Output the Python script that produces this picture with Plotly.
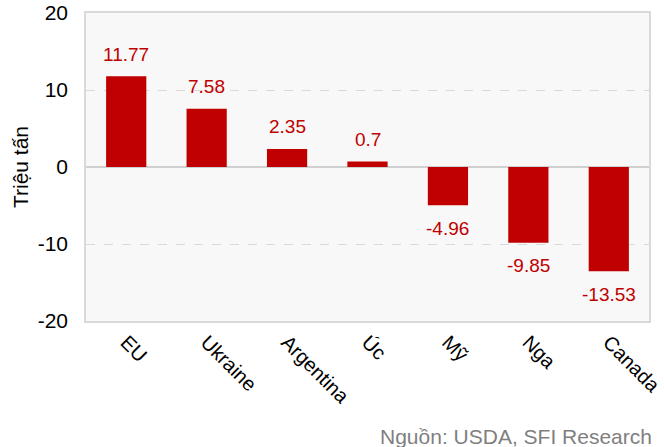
import plotly.graph_objects as go

categories = ["EU", "Ukraine", "Argentina", "Úc", "Mỹ", "Nga", "Canada"]
values = [11.77, 7.58, 2.35, 0.7, -4.96, -9.85, -13.53]
labels = ["11.77", "7.58", "2.35", "0.7", "-4.96", "-9.85", "-13.53"]
yticks = [-20, -10, 0, 10, 20]
yticktext = ["-20", "-10", "0", "10", "20"]

RED = "#c00000"
FONT = "Liberation Sans, Arial, sans-serif"

fig = go.Figure()
fig.add_trace(go.Bar(
    x=categories, y=values, marker_color=RED, marker_line_width=0,
))

annotations = []
for c, v, t in zip(categories, values, labels):
    annotations.append(dict(
        x=c, y=v, xref="x", yref="y", text=t, showarrow=False,
        yanchor="middle", yshift=22 if v >= 0 else -23,
        font=dict(size=19, color=RED, family=FONT),
    ))
annotations.append(dict(
    text="Nguồn: USDA, SFI Research", xref="paper", yref="paper",
    x=1.0, y=0, xanchor="right", yanchor="middle", yshift=-115, xshift=5,
    showarrow=False, font=dict(size=21, color="#7f7f7f", family=FONT),
))

fig.update_layout(
    width=664, height=447,
    margin=dict(l=86, r=15, t=13, b=126),
    paper_bgcolor="white", plot_bgcolor="#f8f8f8",
    bargap=0.5, showlegend=False,
    font=dict(family=FONT, size=20, color="black"),
    xaxis=dict(
        tickangle=45, tickfont=dict(size=20), showgrid=False, automargin=False,
        showline=True, linecolor="#d9d9d9", linewidth=1.5, mirror=True, ticks="",
    ),
    yaxis=dict(
        range=[-20, 20], tickvals=yticks, ticktext=yticktext,
        tickfont=dict(size=21), automargin=False, ticklabelstandoff=12,
        ticklabeloverflow="allow",
        showgrid=True, gridcolor="#d9d9d9", griddash="dash", gridwidth=1,
        zeroline=True, zerolinecolor="#d0d0d0", zerolinewidth=1.5,
        showline=True, linecolor="#d9d9d9", linewidth=1.5, mirror=True, ticks="",
        title=dict(text="Triệu tấn", font=dict(size=21), standoff=3),
    ),
    annotations=annotations,
)

# Remove the browser's default 8px body margin so the figure fills the window.
fig.write_html(
    "out.html",
    config={"displayModeBar": False},
    post_script="document.body.style.margin='0';",
)
